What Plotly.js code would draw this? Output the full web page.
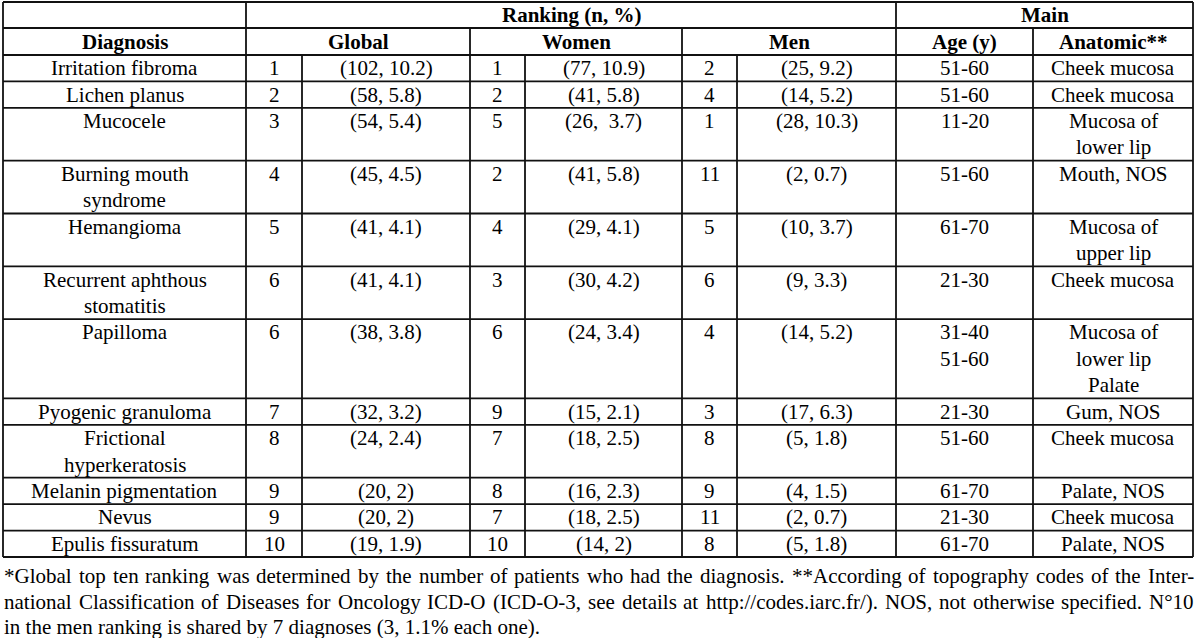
<!DOCTYPE html>
<html>
<head>
<meta charset="utf-8">
<script src="https://cdn.plot.ly/plotly-3.0.1.min.js"></script>
<style>html,body{margin:0;padding:0;background:#fff;}#chart{width:1200px;height:638px;}</style>
</head>
<body>
<div id="chart"></div>
<script>
// ---------- data ----------
const diagnoses = ["Irritation fibroma","Lichen planus","Mucocele","Burning mouth<br>syndrome","Hemangioma",
  "Recurrent aphthous<br>stomatitis","Papilloma","Pyogenic granuloma","Frictional<br>hyperkeratosis",
  "Melanin pigmentation","Nevus","Epulis fissuratum"];
const globalRank = [1,2,3,4,5,6,6,7,8,9,9,10];
const globalN    = [102,58,54,45,41,41,38,32,24,20,20,19];
const globalPct  = [10.2,5.8,5.4,4.5,4.1,4.1,3.8,3.2,2.4,2,2,1.9];
const womenRank  = [1,2,5,2,4,3,6,9,7,8,7,10];
const womenN     = [77,41,26,41,29,30,24,15,18,16,18,14];
const womenPct   = [10.9,5.8,3.7,5.8,4.1,4.2,3.4,2.1,2.5,2.3,2.5,2];
const menRank    = [2,4,1,11,5,6,4,3,8,9,11,8];
const menN       = [25,14,28,2,10,9,14,17,5,4,2,5];
const menPct     = [9.2,5.2,10.3,0.7,3.7,3.3,5.2,6.3,1.8,1.5,0.7,1.8];
const ageGroup   = ["51-60","51-60","11-20","51-60","61-70","21-30","31-40<br>51-60","21-30","51-60","61-70","21-30","61-70"];
const anatomic   = ["Cheek mucosa","Cheek mucosa","Mucosa of<br>lower lip","Mouth, NOS","Mucosa of<br>upper lip",
  "Cheek mucosa","Mucosa of<br>lower lip<br>Palate","Gum, NOS","Cheek mucosa","Palate, NOS","Cheek mucosa","Palate, NOS"];
const headerTop  = ["Ranking (n, %)","Main"];
const headerSub  = ["Diagnosis","Global","Women","Men","Age (y)","Anatomic**"];
const footnote = [
  "*Global top ten ranking was determined by the number of patients who had the diagnosis. **According of topography codes of the Inter-",
  "national Classification of Diseases for Oncology ICD-O (ICD-O-3, see details at http://codes.iarc.fr/). NOS, not otherwise specified. N°10",
  "in the men ranking is shared by 7 diagnoses (3, 1.1% each one)."
];

// ---------- layout constants ----------
const FONT = "Liberation Serif, Times New Roman, Times, DejaVu Serif, Noto Serif";
const FS = 21;
const colX = [3,246,302,470,525,682,737,896,1033,1193];
const TOP = 2, H1 = 28, H2 = 55, LINE = 26.42;
const LW = 1.8, LC = "#111";

function pair(n,p){ return "(" + n + ", " + p + ")"; }
function nLines(s){ return String(s).split("<br>").length; }

const shapes = [];
const ann = [];
function hline(y,x0,x1){ shapes.push({type:"line",xref:"x",yref:"y",x0:x0,x1:x1,y0:y,y1:y,line:{color:LC,width:LW}}); }
function vline(x,y0,y1){ shapes.push({type:"line",xref:"x",yref:"y",x0:x,x1:x,y0:y0,y1:y1,line:{color:LC,width:LW}}); }
function txt(x,y,t,bold,xanchor){
  ann.push({x:x,y:y,xref:"x",yref:"y",text:bold?"<b>"+t+"</b>":t,showarrow:false,
    xanchor:xanchor||"center",yanchor:"middle",font:{family:FONT,size:FS,color:"#000"},borderpad:0});
}
function cell(xc,top,t,bold){
  String(t).split("<br>").forEach((ln,i)=>txt(xc,top+LINE/2+i*LINE,ln,bold));
}
const mid = (a,b)=>(a+b)/2;

// header
txt(mid(colX[1],colX[7]), mid(TOP,H1), headerTop[0], true);
txt(mid(colX[7],colX[9]), mid(TOP,H1), headerTop[1], true);
const subCenters = [mid(colX[0],colX[1]),mid(colX[1],colX[3]),mid(colX[3],colX[5]),mid(colX[5],colX[7]),mid(colX[7],colX[8]),mid(colX[8],colX[9])];
headerSub.forEach((h,i)=>txt(subCenters[i], mid(H1,H2), h, true));

// body
let y = H2;
const rowBottoms = [];
diagnoses.forEach((d,i)=>{
  const cells = [d, globalRank[i], pair(globalN[i],globalPct[i]), womenRank[i],
    (i===2 ? "(" + womenN[i] + ",\u00a0 " + womenPct[i] + ")" : pair(womenN[i],womenPct[i])),
    menRank[i], pair(menN[i],menPct[i]), ageGroup[i], anatomic[i]];
  const lines = Math.max(...cells.map(nLines));
  cells.forEach((c,j)=>cell(mid(colX[j],colX[j+1]), y, c, false));
  y += lines*LINE;
  rowBottoms.push(y);
});
const BOTTOM = y;

// grid lines
hline(TOP, colX[0], colX[9]);
hline(H1, colX[0], colX[9]);
hline(H2, colX[0], colX[9]);
rowBottoms.forEach(b=>hline(b, colX[0], colX[9]));
[0,1,7,9].forEach(k=>vline(colX[k], TOP, BOTTOM));
[3,5,8].forEach(k=>vline(colX[k], H1, BOTTOM));
[2,4,6].forEach(k=>vline(colX[k], H2, BOTTOM));

// footnote (justified lines)
const cv = document.createElement("canvas").getContext("2d");
cv.font = FS + "px Liberation Serif, Times New Roman, Times, DejaVu Serif, Noto Serif";
const footY = [576, 602, 627];
footnote.forEach((line,li)=>{
  if (li === footnote.length-1) { txt(colX[0], footY[li], line, false, "left"); return; }
  const words = line.split(" ");
  const widths = words.map(w=>cv.measureText(w).width);
  const total = widths.reduce((a,b)=>a+b,0);
  const gap = (colX[9]-colX[0]-total)/(words.length-1);
  let x = colX[0];
  words.forEach((w,k)=>{ txt(x, footY[li], w, false, "left"); x += widths[k] + gap; });
});

const layout = {
  width:1200, height:638, margin:{l:0,r:0,t:0,b:0},
  paper_bgcolor:"#fff", plot_bgcolor:"#fff",
  font:{family:FONT},
  xaxis:{range:[0,1200],visible:false,fixedrange:true},
  yaxis:{range:[638,0],visible:false,fixedrange:true},
  shapes:shapes, annotations:ann, showlegend:false
};
Plotly.newPlot("chart", [], layout, {staticPlot:true});
</script>
</body>
</html>
